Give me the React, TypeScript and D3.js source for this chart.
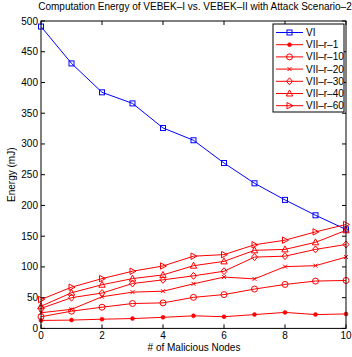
import React from "react";
import * as d3 from "d3";

const xs = [0, 1, 2, 3, 4, 5, 6, 7, 8, 9, 10];
const vi = [491, 431, 384, 366, 326, 306, 269, 236, 209, 184, 161];
const r1 = [13, 13.5, 15, 16, 18, 20.5, 19, 22.5, 26, 22.5, 23.5];
const r10 = [19, 28, 34.5, 40.5, 41.5, 50.5, 55, 64, 71.5, 77, 78];
const r20 = [25.5, 31, 51.5, 59, 60.5, 72.5, 83.5, 80.5, 100.5, 102, 116];
const r30 = [32.5, 50, 57.5, 73, 79, 85.5, 93, 116, 117.5, 128.5, 136.5];
const r40 = [36, 58, 71, 81, 87, 102, 109, 127, 128.5, 140, 159.5];
const r60 = [47, 67, 81, 93, 101.5, 117.5, 120, 136, 143.5, 157, 169];

const xTicks = [0, 2, 4, 6, 8, 10];
const yTicks = [0, 50, 100, 150, 200, 250, 300, 350, 400, 450, 500];

const series = [
  { name: "VI", values: vi, color: "#0000ff", marker: "square" },
  { name: "VII–r–1", values: r1, color: "#ff0000", marker: "dot" },
  { name: "VII–r–10", values: r10, color: "#ff0000", marker: "circle" },
  { name: "VII–r–20", values: r20, color: "#ff0000", marker: "x" },
  { name: "VII–r–30", values: r30, color: "#ff0000", marker: "diamond" },
  { name: "VII–r–40", values: r40, color: "#ff0000", marker: "triangle" },
  { name: "VII–r–60", values: r60, color: "#ff0000", marker: "right" },
];

function Marker({ type, x, y, color }: { type: string; x: number; y: number; color: string }) {
  const s = 3;
  const common = { fill: "none", stroke: color, strokeWidth: 1 };
  switch (type) {
    case "square":
      return <rect x={x - 2.5} y={y - 2.5} width={5} height={5} {...common} />;
    case "dot":
      return <circle cx={x} cy={y} r={2} fill={color} stroke={color} strokeWidth={0.5} />;
    case "circle":
      return <circle cx={x} cy={y} r={s} {...common} />;
    case "x":
      return (
        <path d={`M${x - 2},${y - 2}L${x + 2},${y + 2}M${x - 2},${y + 2}L${x + 2},${y - 2}`} {...common} />
      );
    case "diamond":
      return <path d={`M${x},${y - 3.5}L${x + 3},${y}L${x},${y + 3.5}L${x - 3},${y}Z`} {...common} />;
    case "triangle":
      return <path d={`M${x},${y - 3.5}L${x + 3.2},${y + 2.5}L${x - 3.2},${y + 2.5}Z`} {...common} />;
    case "right":
      return <path d={`M${x + 3.5},${y}L${x - 2.5},${y - 3.2}L${x - 2.5},${y + 3.2}Z`} {...common} />;
    default:
      return null;
  }
}

export default function App() {
  const W = 352, H = 357;
  const left = 41, right = 346, top = 21, bottom = 328.4;
  const x = d3.scaleLinear().domain([0, 10]).range([left, right]);
  const y = d3.scaleLinear().domain([0, 500]).range([bottom, top]);
  const line = d3.line<number>().x((_, i) => x(xs[i])).y((d) => y(d));
  const font = "Liberation Sans, Arial, Helvetica, sans-serif";
  const tl = 4;

  const lgX = 273, lgY = 24, lgW = 71, lgH = 88;
  const rowY = (i: number) => lgY + 8.5 + i * 12.2;

  return (
    <svg width={W} height={H} style={{ position: "absolute", left: 0, top: 0, background: "#fff" }} fontFamily={font}>
      <rect x={0} y={0} width={W} height={H} fill="#fff" />
      <text x={195} y={10} fontSize={10} textAnchor="middle" fill="#000">
        Computation Energy of VEBEK–I vs. VEBEK–II with Attack Scenario–2
      </text>
      {xTicks.map((t) => (
        <g key={"x" + t}>
          <line x1={x(t)} x2={x(t)} y1={bottom} y2={bottom - tl} stroke="#000" strokeWidth={1} />
          <line x1={x(t)} x2={x(t)} y1={top} y2={top + tl} stroke="#000" strokeWidth={1} />
          <text x={x(t)} y={bottom + 11} fontSize={10} textAnchor="middle" fill="#000">{t}</text>
        </g>
      ))}
      {yTicks.map((t) => (
        <g key={"y" + t}>
          <line x1={left} x2={left + tl} y1={y(t)} y2={y(t)} stroke="#000" strokeWidth={1} />
          <line x1={right} x2={right - tl} y1={y(t)} y2={y(t)} stroke="#000" strokeWidth={1} />
          <text x={left - 3} y={y(t) + 3.5} fontSize={10} textAnchor="end" fill="#000">{t}</text>
        </g>
      ))}
      <text x={194} y={350.5} fontSize={10} textAnchor="middle" fill="#000"># of Malicious Nodes</text>
      <text transform={`translate(15,${(top + bottom) / 2}) rotate(-90)`} fontSize={10} textAnchor="middle" fill="#000">
        Energy (mJ)
      </text>
      {series.map((s) => (
        <g key={s.name}>
          <path d={line(s.values) || ""} fill="none" stroke={s.color} strokeWidth={1} />
          {s.values.map((v, i) => (
            <Marker key={i} type={s.marker} x={x(xs[i])} y={y(v)} color={s.color} />
          ))}
        </g>
      ))}
      <rect x={left} y={top} width={right - left} height={bottom - top} fill="none" stroke="#000" strokeWidth={1} />
      <rect x={lgX} y={lgY} width={lgW} height={lgH} fill="#fff" stroke="#000" strokeWidth={1} />
      {series.map((s, i) => (
        <g key={"lg" + s.name}>
          <line x1={lgX + 3} x2={lgX + 30} y1={rowY(i)} y2={rowY(i)} stroke={s.color} strokeWidth={1} />
          <Marker type={s.marker} x={lgX + 16.5} y={rowY(i)} color={s.color} />
          <text x={lgX + 33} y={rowY(i) + 3.5} fontSize={10} fill="#000">{s.name}</text>
        </g>
      ))}
    </svg>
  );
}
